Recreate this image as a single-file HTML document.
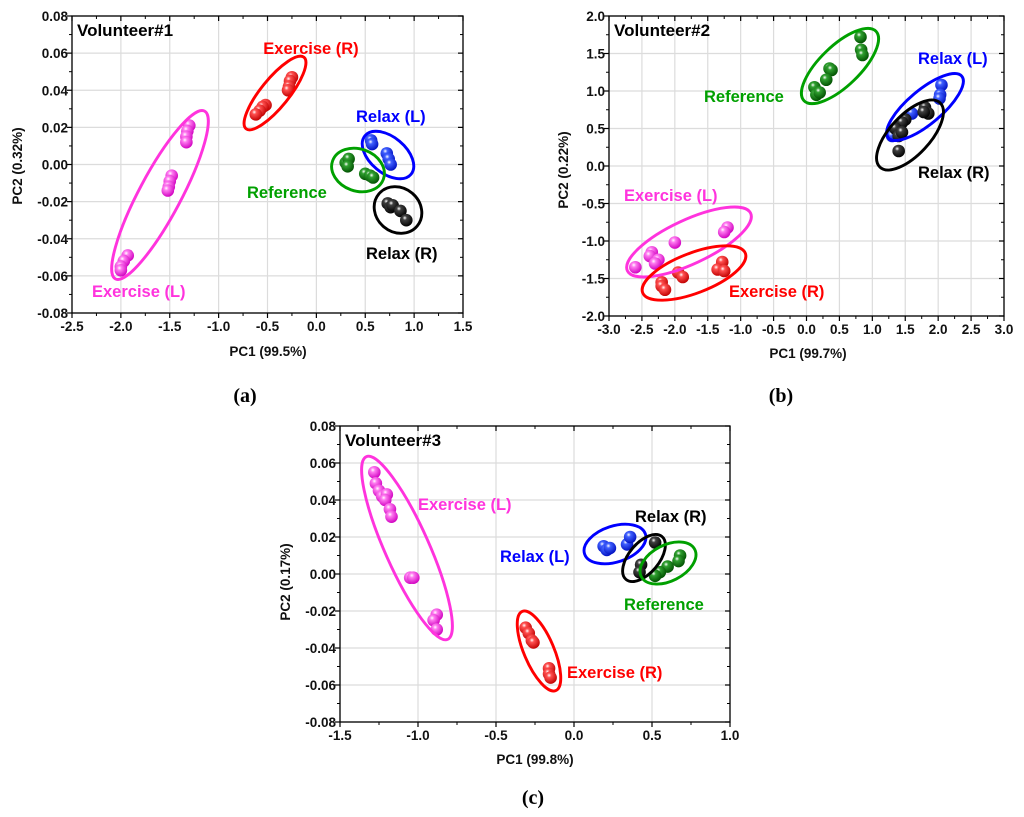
<!DOCTYPE html>
<html><head><meta charset="utf-8">
<style>
html,body{margin:0;padding:0;background:#fff;}
svg{display:block;font-family:"Liberation Sans",Arial,sans-serif;}
</style></head>
<body>
<svg id="fig" width="1024" height="817" viewBox="0 0 1024 817" xmlns="http://www.w3.org/2000/svg">
<defs>
  <radialGradient id="g-magenta" cx="0.38" cy="0.32" r="0.7"><stop offset="0" stop-color="#fff"/><stop offset="0.25" stop-color="#ff7cf0"/><stop offset="1" stop-color="#d000c0"/></radialGradient>
  <radialGradient id="g-red" cx="0.38" cy="0.32" r="0.7"><stop offset="0" stop-color="#fff"/><stop offset="0.25" stop-color="#ff5050"/><stop offset="1" stop-color="#c00000"/></radialGradient>
  <radialGradient id="g-blue" cx="0.38" cy="0.32" r="0.7"><stop offset="0" stop-color="#fff"/><stop offset="0.25" stop-color="#4060ff"/><stop offset="1" stop-color="#0010c0"/></radialGradient>
  <radialGradient id="g-green" cx="0.38" cy="0.32" r="0.7"><stop offset="0" stop-color="#fff"/><stop offset="0.25" stop-color="#30a030"/><stop offset="1" stop-color="#005000"/></radialGradient>
  <radialGradient id="g-black" cx="0.38" cy="0.32" r="0.7"><stop offset="0" stop-color="#fff"/><stop offset="0.25" stop-color="#404040"/><stop offset="1" stop-color="#000"/></radialGradient>
</defs>
</svg>
<script>
// ---------- Data: panel (a) Volunteer#1 ----------
const a_xTicks = [-2.5,-2.0,-1.5,-1.0,-0.5,0.0,0.5,1.0,1.5];
const a_yTicks = [-0.08,-0.06,-0.04,-0.02,0.00,0.02,0.04,0.06,0.08];
const a_exerciseL = [[-1.3,0.021],[-1.32,0.018],[-1.33,0.015],[-1.33,0.012],[-1.48,-0.006],[-1.5,-0.009],[-1.51,-0.012],[-1.52,-0.014],[-1.93,-0.049],[-1.97,-0.052],[-2.0,-0.055],[-2.0,-0.057]];
const a_exerciseR = [[-0.25,0.047],[-0.27,0.045],[-0.28,0.042],[-0.29,0.040],[-0.52,0.032],[-0.55,0.031],[-0.58,0.029],[-0.62,0.027]];
const a_relaxL = [[0.56,0.013],[0.57,0.011],[0.72,0.006],[0.74,0.003],[0.76,0.000]];
const a_reference = [[0.3,0.001],[0.33,0.003],[0.32,-0.001],[0.5,-0.005],[0.55,-0.006],[0.58,-0.007]];
const a_relaxR = [[0.73,-0.021],[0.76,-0.023],[0.78,-0.022],[0.86,-0.025],[0.92,-0.030]];
// ---------- Data: panel (b) Volunteer#2 ----------
const b_xTicks = [-3.0,-2.5,-2.0,-1.5,-1.0,-0.5,0.0,0.5,1.0,1.5,2.0,2.5,3.0];
const b_yTicks = [-2.0,-1.5,-1.0,-0.5,0.0,0.5,1.0,1.5,2.0];
const b_reference = [[0.82,1.72],[0.83,1.55],[0.85,1.48],[0.35,1.3],[0.38,1.28],[0.3,1.15],[0.12,1.05],[0.15,0.95],[0.2,0.98]];
const b_relaxL = [[2.05,1.08],[2.03,0.95],[2.02,0.9],[1.6,0.7],[1.35,0.45],[1.3,0.4]];
const b_relaxR = [[1.8,0.78],[1.85,0.7],[1.78,0.72],[1.5,0.62],[1.45,0.58],[1.35,0.5],[1.4,0.4],[1.4,0.2],[1.45,0.45]];
const b_exerciseL = [[-1.2,-0.82],[-1.25,-0.88],[-2.0,-1.02],[-2.35,-1.15],[-2.38,-1.2],[-2.25,-1.25],[-2.3,-1.3],[-2.6,-1.35]];
const b_exerciseR = [[-1.28,-1.28],[-1.35,-1.38],[-1.25,-1.4],[-1.95,-1.42],[-1.88,-1.48],[-2.2,-1.55],[-2.2,-1.6],[-2.15,-1.65]];
// ---------- Data: panel (c) Volunteer#3 ----------
const c_xTicks = [-1.5,-1.0,-0.5,0.0,0.5,1.0];
const c_yTicks = [-0.08,-0.06,-0.04,-0.02,0.00,0.02,0.04,0.06,0.08];
const c_exerciseL = [[-1.28,0.055],[-1.27,0.049],[-1.25,0.045],[-1.23,0.042],[-1.2,0.043],[-1.21,0.040],[-1.18,0.035],[-1.17,0.031],[-1.05,-0.002],[-1.03,-0.002],[-0.88,-0.022],[-0.9,-0.025],[-0.88,-0.030]];
const c_exerciseR = [[-0.31,-0.029],[-0.29,-0.032],[-0.27,-0.036],[-0.26,-0.037],[-0.16,-0.051],[-0.16,-0.054],[-0.15,-0.056]];
const c_relaxL = [[0.19,0.015],[0.21,0.013],[0.23,0.014],[0.34,0.016],[0.36,0.02]];
const c_relaxR = [[0.52,0.017],[0.43,0.005],[0.42,0.001]];
const c_reference = [[0.68,0.01],[0.67,0.007],[0.6,0.004],[0.55,0.001],[0.52,-0.001]];

const COL = {magenta:'#ff33dd', red:'#ff0000', blue:'#0000ff', green:'#00a000', black:'#000000'};
const svg = document.getElementById('fig');
const NS = 'http://www.w3.org/2000/svg';
function mk(tag, attrs, parent){ const e=document.createElementNS(NS,tag); for(const k in attrs) e.setAttribute(k,attrs[k]); (parent||svg).appendChild(e); return e; }

function fmt(v, d){ return v.toFixed(d); }

function panel(p){
  const g = mk('g',{});
  
  
  const xs = v => p.L + (v - p.xMin)/(p.xMax - p.xMin)*(p.R - p.L);
  const ys = v => p.B - (v - p.yMin)/(p.yMax - p.yMin)*(p.B - p.T);
  p.xTicks.forEach(t=>{ const l=mk('line',{x1:xs(t),x2:xs(t),y1:p.T,y2:p.B,stroke:'#dcdcdc','stroke-width':1.2},g);
      });
  p.yTicks.forEach(t=>{ const l=mk('line',{x1:p.L,x2:p.R,y1:ys(t),y2:ys(t),stroke:'#dcdcdc','stroke-width':1.2},g);
      });
  const fr = mk('rect',{x:p.L,y:p.T,width:p.R-p.L,height:p.B-p.T,fill:'none',stroke:'#000','stroke-width':1.3},g);
   
  const dx = p.xTicks[1]-p.xTicks[0], dy = p.yTicks[1]-p.yTicks[0];
  for(let i=0;i<p.xTicks.length;i++){
    const t=p.xTicks[i], X=xs(t);
    mk('line',{x1:X,x2:X,y1:p.B,y2:p.B+5,stroke:'#000','stroke-width':1.2},g);
    mk('line',{x1:X,x2:X,y1:p.T,y2:p.T+5,stroke:'#000','stroke-width':1.2},g);
    if(i<p.xTicks.length-1){ const m=xs(t+dx/2);
      mk('line',{x1:m,x2:m,y1:p.B,y2:p.B+3,stroke:'#000','stroke-width':1},g);
      mk('line',{x1:m,x2:m,y1:p.T,y2:p.T+3,stroke:'#000','stroke-width':1},g); }
    const tx = mk('text',{x:X,y:p.B+18,'text-anchor':'middle','font-size':p.tickFs,'font-weight':'bold',fill:'#111'},g);
    tx.textContent = fmt(t,1);
     
  }
  for(let i=0;i<p.yTicks.length;i++){
    const t=p.yTicks[i], Y=ys(t);
    mk('line',{x1:p.L-5,x2:p.L,y1:Y,y2:Y,stroke:'#000','stroke-width':1.2},g);
    mk('line',{x1:p.R-5,x2:p.R,y1:Y,y2:Y,stroke:'#000','stroke-width':1.2},g);
    if(i<p.yTicks.length-1){ const m=ys(t+dy/2);
      mk('line',{x1:p.L-3,x2:p.L,y1:m,y2:m,stroke:'#000','stroke-width':1},g);
      mk('line',{x1:p.R-3,x2:p.R,y1:m,y2:m,stroke:'#000','stroke-width':1},g); }
    const ty = mk('text',{x:p.L-4,y:Y+5,'text-anchor':'end','font-size':p.tickFs,'font-weight':'bold',fill:'#111'},g);
    ty.textContent = fmt(t,p.yDec);
     
  }
  const xt = mk('text',{x:p.xtX,y:p.xtY,'text-anchor':'middle','font-size':13.5,'font-weight':'bold',fill:'#111'},g);
  xt.textContent = p.xTitle;  
  const yt = mk('text',{x:0,y:0,'text-anchor':'middle','font-size':13.5,'font-weight':'bold',fill:'#111',transform:`translate(${p.ytX},${p.ytY}) rotate(-90)`},g);
  yt.textContent = p.yTitle;  
  const vt = mk('text',{x:p.L+5,y:p.T+20,'font-size':17,'font-weight':'bold',fill:'#000'},g);
  vt.textContent = p.title;  
  p.series.forEach(s=>{
    const sg = mk('g',{},g);
     
    s.data.forEach(d=>{
      const c = mk('circle',{cx:xs(d[0]),cy:ys(d[1]),r:p.r,fill:'url(#g-'+s.col+')'},sg);
       
    });
  });
  p.ell.forEach(e=>{
    const el = mk('ellipse',{cx:e[1],cy:e[2],rx:e[3],ry:e[4],transform:`rotate(${e[5]} ${e[1]} ${e[2]})`,fill:'none',stroke:COL[e[0]],'stroke-width':2.9},g);
     
  });
  p.labels.forEach(l=>{
    const t = mk('text',{x:l[2],y:l[3],'text-anchor':l[4]||'start','font-size':16.5,'font-weight':'bold',fill:COL[l[0]]},g);
    t.textContent = l[1];  
  });
  const cap = mk('text',{x:p.capX,y:p.capY,'text-anchor':'middle','font-size':20,'font-weight':'bold','font-family':'Liberation Serif, serif',fill:'#000'},g);
  cap.textContent = p.cap;  
}

panel({id:'a',L:72,R:463,T:16,B:313,xMin:-2.5,xMax:1.5,yMin:-0.08,yMax:0.08,xTicks:a_xTicks,yTicks:a_yTicks,yDec:2,tickFs:13.5,r:6.3,
  title:'Volunteer#1',xTitle:'PC1 (99.5%)',yTitle:'PC2 (0.32%)',xtX:268,xtY:356,ytX:22,ytY:166,cap:'(a)',capX:245,capY:402,
  series:[{name:'exercise-l',col:'magenta',data:a_exerciseL},{name:'exercise-r',col:'red',data:a_exerciseR},{name:'relax-l',col:'blue',data:a_relaxL},{name:'reference',col:'green',data:a_reference},{name:'relax-r',col:'black',data:a_relaxR}],
  ell:[['magenta',160,195,95,21,-62],['red',275,93,46,14,-51],['blue',388,155,30,18,40],['green',358,170,27,21,20],['black',398,210,25,22,40]],
  labels:[['red','Exercise (R)',311,54,'middle'],['blue','Relax (L)',356,122],['green','Reference',247,198],['black','Relax (R)',366,259],['magenta','Exercise (L)',92,297]]
});
panel({id:'b',L:609,R:1004,T:16,B:316,xMin:-3,xMax:3,yMin:-2,yMax:2,xTicks:b_xTicks,yTicks:b_yTicks,yDec:1,tickFs:13.5,r:6.3,
  title:'Volunteer#2',xTitle:'PC1 (99.7%)',yTitle:'PC2 (0.22%)',xtX:808,xtY:358,ytX:568,ytY:170,cap:'(b)',capX:781,capY:402,
  series:[{name:'reference',col:'green',data:b_reference},{name:'relax-l',col:'blue',data:b_relaxL},{name:'relax-r',col:'black',data:b_relaxR},{name:'exercise-l',col:'magenta',data:b_exerciseL},{name:'exercise-r',col:'red',data:b_exerciseR}],
  ell:[['green',840,66,50,20,-44],['blue',925,107,48,17,-40],['black',910,135,44,20,-47],['magenta',689,242,68,22,-25],['red',694,273,55,20,-21]],
  labels:[['green','Reference',704,102],['blue','Relax (L)',918,64],['black','Relax (R)',918,178],['magenta','Exercise (L)',624,201],['red','Exercise (R)',729,297]]
});
panel({id:'c',L:340,R:730,T:426,B:722,xMin:-1.5,xMax:1.0,yMin:-0.08,yMax:0.08,xTicks:c_xTicks,yTicks:c_yTicks,yDec:2,tickFs:13.5,r:6.3,
  title:'Volunteer#3',xTitle:'PC1 (99.8%)',yTitle:'PC2 (0.17%)',xtX:535,xtY:764,ytX:290,ytY:582,cap:'(c)',capX:533,capY:804,
  series:[{name:'exercise-l',col:'magenta',data:c_exerciseL},{name:'exercise-r',col:'red',data:c_exerciseR},{name:'relax-l',col:'blue',data:c_relaxL},{name:'relax-r',col:'black',data:c_relaxR},{name:'reference',col:'green',data:c_reference}],
  ell:[['magenta',407,548,100,22,66],['red',539,651,43,15,67],['blue',615,544,32,18,-18],['black',644,558,28,15,-50],['green',668,563,30,18,-27]],
  labels:[['magenta','Exercise (L)',418,510],['black','Relax (R)',635,522],['blue','Relax (L)',500,562],['green','Reference',624,610],['red','Exercise (R)',567,678]]
});
</script>
</body></html>
